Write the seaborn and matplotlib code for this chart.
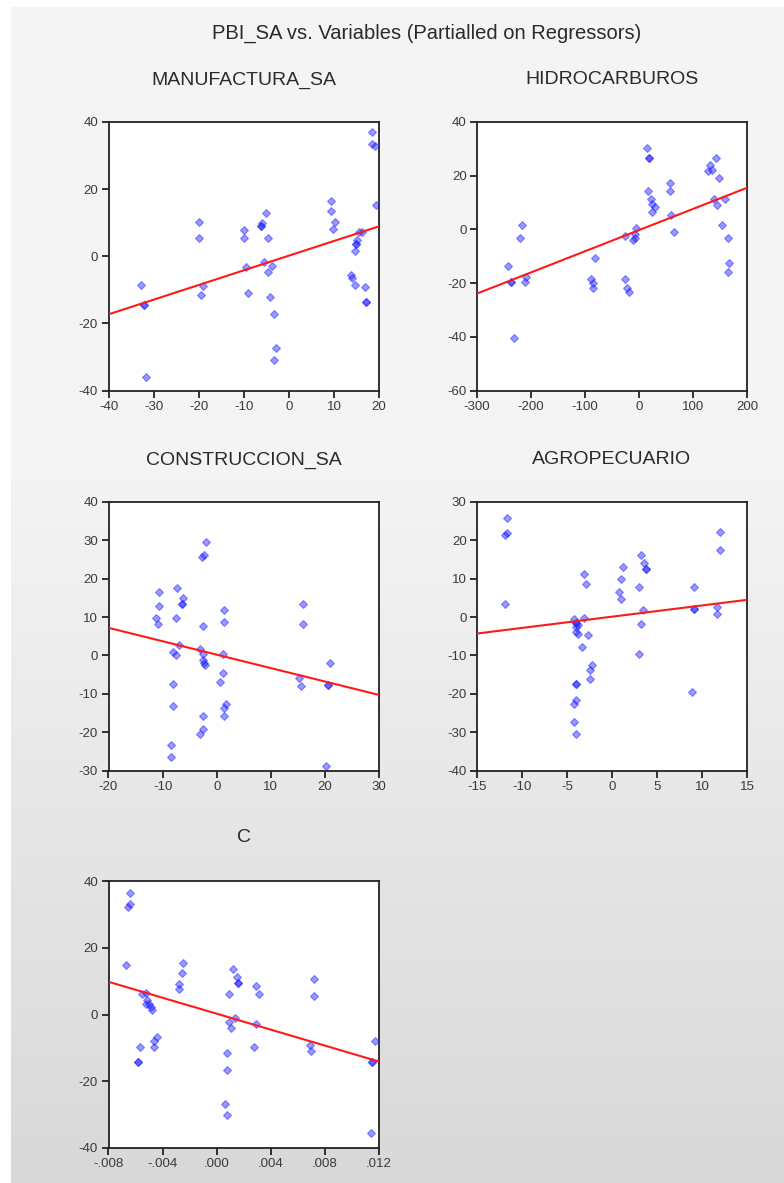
import matplotlib
matplotlib.use("Agg")
import matplotlib.pyplot as plt
import numpy as np
import seaborn as sns
from matplotlib.ticker import FuncFormatter

# ---------------- data ----------------
main_title = "PBI_SA vs. Variables (Partialled on Regressors)"
panel_titles = ["MANUFACTURA_SA", "HIDROCARBUROS", "CONSTRUCCION_SA", "AGROPECUARIO", "C"]

manuf_x = [-32.7, -32.1, -32.1, -31.7, -19.9, -19.9, -19.1, -19.5, -10.0, -10.0, -9.5, -9.0,
           -6.1, -6.1, -5.9, -5.1, -4.6, -5.5, -4.6, -3.8, -4.2, -3.3, -2.9, -3.3,
           9.4, 9.4, 10.3, 9.8, 19.3, 18.5, 18.5, 19.1, 15.5, 16.3, 15.2, 14.8, 14.8,
           14.6, 13.7, 14.0, 14.6, 16.8, 17.2, 17.2]
manuf_y = [-8.5, -14.6, -14.6, -36.0, 10.1, 5.4, -9.0, -11.5, 7.7, 5.4, -3.3, -10.9,
           9.0, 9.0, 10.0, 13.0, 5.4, -1.6, -4.6, -2.8, -12.1, -17.3, -27.3, -30.8,
           16.4, 13.4, 10.1, 8.2, 15.3, 36.9, 33.4, 32.8, 7.2, 7.2, 4.7, 3.7, 3.7,
           1.7, -5.6, -6.6, -8.6, -9.2, -13.5, -13.5]

hidro_x = [-241.7, -236.7, -236.7, -231.0, -216.0, -220.0, -209.0, -212.0, -88.0, -85.0, -85.0, -81.0,
           -26.0, -22.0, -18.0, -26.0, -11.0, -7.4, -7.4, -5.5, 14.0, 19.0, 19.0, 17.0,
           21.4, 24.6, 29.0, 24.6, 57.0, 57.0, 60.0, 65.0, 128.0, 132.0, 135.0, 142.0,
           139.0, 149.0, 145.0, 159.0, 153.0, 164.0, 164.0, 167.0]
hidro_y = [-13.5, -19.5, -19.5, -40.6, 1.75, -3.3, -17.9, -19.5, -18.5, -19.8, -21.7, -10.5,
           -18.5, -22.0, -23.3, -2.6, -4.1, -3.3, -1.6, 0.5, 30.5, 26.6, 26.6, 14.2,
           11.3, 9.3, 8.4, 6.3, 17.2, 14.2, 5.5, -1.0, 21.6, 23.8, 22.3, 26.6,
           11.5, 19.3, 9.0, 11.3, 1.75, -3.3, -15.8, -12.7]

constr_x = [-10.6, -10.6, -11.3, -10.9, -7.3, -6.2, -6.4, -6.4, -7.6, -7.0, -8.1, -7.6,
            -8.0, -8.0, -8.4, -8.4, -1.9, -2.3, -2.7, -2.6, -3.0, -2.6, -2.6, -2.4,
            -2.2, -2.6, -2.6, -3.0, 1.3, 1.3, 1.1, 1.1, 0.6, 1.7, 1.3, 1.3,
            15.9, 15.9, 15.2, 15.5, 20.9, 20.6, 20.6, 20.2]
constr_y = [16.5, 12.9, 9.8, 8.2, 17.5, 15.0, 13.3, 13.3, 9.8, 2.7, 1.0, 0.0,
            -7.5, -13.2, -23.4, -26.4, 29.6, 26.1, 25.7, 7.8, 1.8, 0.3, -1.2, -2.1,
            -2.5, -15.7, -19.3, -20.4, 11.8, 8.8, 0.3, -4.5, -7.0, -12.6, -13.6, -15.7,
            13.4, 8.2, -6.0, -8.1, -1.9, -7.8, -7.8, -28.9]

agro_x = [-11.66, -11.66, -11.9, -11.9, -4.24, -4.05, -4.05, -3.75, -4.05, -4.05, -3.75,
          -3.1, -2.9, -3.1, -2.66, -3.3, -2.2, -2.4, -2.4, -4.05, -4.05, -4.05, -4.24,
          -4.24, -4.05, 0.79, 1.0, 1.0, 1.24, 3.2, 3.6, 3.8, 3.8, 3.0, 3.4, 3.2, 3.0,
          9.15, 9.15, 9.15, 8.9, 12.0, 12.0, 11.7, 11.7]
agro_y = [25.9, 21.8, 21.3, 3.3, -0.6, -1.6, -1.6, -2.0, -2.7, -3.8, -4.4,
          11.1, 8.5, -0.3, -4.7, -7.9, -12.4, -13.7, -16.1, -17.4, -17.4, -21.5, -22.7,
          -27.3, -30.4, 6.5, 4.8, 10.0, 13.1, 16.1, 14.1, 12.5, 12.5, 7.9, 1.8, -1.8, -9.5,
          7.9, 2.1, 2.1, -19.6, 22.3, 17.6, 2.5, 0.8]

c_x = [-0.00643, -0.00638, -0.00655, -0.0067, -0.00568, -0.0058, -0.0058, -0.00553, -0.00523,
       -0.00513, -0.00525, -0.0050, -0.00488, -0.00475, -0.00443, -0.0046, -0.00463,
       -0.00246, -0.0026, -0.00276, -0.00276, 0.00119, 0.00151, 0.00156, 0.00156, 0.0009,
       0.00137, 0.0009, 0.00106, 0.00074, 0.00074, 0.00059, 0.00074, 0.00294, 0.0031,
       0.00294, 0.00276, 0.00718, 0.00718, 0.00688, 0.0070, 0.01168, 0.0115, 0.0115, 0.0114]
c_y = [36.4, 33.0, 32.3, 14.7, -9.6, -14.1, -14.1, 6.0, 6.5,
       4.3, 3.2, 3.0, 2.1, 1.3, -6.6, -7.9, -9.6,
       15.3, 12.4, 9.0, 7.7, 13.6, 11.3, 9.5, 9.5, 6.0,
       -1.0, -2.1, -4.0, -11.4, -16.7, -26.7, -30.1, 8.4, 6.0,
       -2.9, -9.6, 10.6, 5.4, -9.0, -11.0, -8.0, -14.1, -14.1, -35.4]

# fitted partial-regression lines (slope, intercept)
fit_slopes = [0.437, 0.0788, -0.35, 0.293, -1195.0]
fit_intercepts = [0.17, -0.26, 0.2, 0.1, 0.24]

# axis ranges and ticks
x_limits = [(-40, 20), (-300, 200), (-20, 30), (-15, 15), (-0.008, 0.012)]
y_limits = [(-40, 40), (-60, 40), (-30, 40), (-40, 30), (-40, 40)]
x_ticks = [[-40, -30, -20, -10, 0, 10, 20],
           [-300, -200, -100, 0, 100, 200],
           [-20, -10, 0, 10, 20, 30],
           [-15, -10, -5, 0, 5, 10, 15],
           [-0.008, -0.004, 0.0, 0.004, 0.008, 0.012]]
y_ticks = [[-40, -20, 0, 20, 40],
           [-60, -40, -20, 0, 20, 40],
           [-30, -20, -10, 0, 10, 20, 30, 40],
           [-40, -30, -20, -10, 0, 10, 20, 30],
           [-40, -20, 0, 20, 40]]

xs = [manuf_x, hidro_x, constr_x, agro_x, c_x]
ys = [manuf_y, hidro_y, constr_y, agro_y, c_y]

# ---------------- style ----------------
sns.set_theme(style="white")
plt.rcParams["font.family"] = ["Liberation Sans", "DejaVu Sans"]
plt.rcParams["axes.unicode_minus"] = False

W, H = 784, 1183
fig = plt.figure(figsize=(W / 100, H / 100), dpi=100)

# background: white margin + soft vertical gray gradient
rows = np.arange(H)
shade = np.where(rows < 480, 244.0, 244.0 - 28.0 * (rows - 480) / (H - 480))
bg = np.repeat(shade[:, None], W, axis=1)
bg[:7, :] = 255
bg[:, :11] = 255
bg_rgb = np.stack([bg, bg, bg], axis=-1) / 255.0
bax = fig.add_axes([0, 0, 1, 1], zorder=-10)
bax.imshow(bg_rgb, aspect="auto", extent=[0, 1, 0, 1], interpolation="nearest")
bax.set_axis_off()

col_left = [108.5, 477.0]
col_width = [270.5, 270.0]
row_top = [122.0, 502.0, 881.0]
row_bottom = [390.5, 770.5, 1148.0]
title_y = [80.0, 460.0, 838.0]


def c_fmt(v, pos):
    s = "%.3f" % v
    if s.startswith("-0"):
        return "-" + s[2:]
    if s.startswith("0"):
        return s[1:]
    return s


for i in range(5):
    r, c = divmod(i, 2)
    l = col_left[c] / W
    w = col_width[c] / W
    b = (H - row_bottom[r]) / H
    h = (row_bottom[r] - row_top[r]) / H
    ax = fig.add_axes([l, b, w, h])
    ax.set_facecolor("white")

    sns.scatterplot(x=xs[i], y=ys[i], ax=ax, marker="D", s=16,
                    color="#2020ff", edgecolor="#2020ff", linewidth=0.9,
                    alpha=0.45, zorder=3, legend=False)
    xl = np.array(x_limits[i], dtype=float)
    yl = fit_intercepts[i] + fit_slopes[i] * xl
    sns.lineplot(x=xl, y=yl, ax=ax, color="#ff1a1a", linewidth=1.5, zorder=4)

    ax.set_xlim(*x_limits[i])
    ax.set_ylim(*y_limits[i])
    ax.set_xticks(x_ticks[i])
    ax.set_yticks(y_ticks[i])
    if i == 4:
        ax.xaxis.set_major_formatter(FuncFormatter(c_fmt))
    ax.set_xlabel("")
    ax.set_ylabel("")
    ax.tick_params(axis="both", which="major", direction="out", length=5,
                   width=1.3, color="#222222", labelsize=9.5, labelcolor="#3a3a3a",
                   pad=2.5, left=True, bottom=True)
    for sp in ax.spines.values():
        sp.set_visible(True)
        sp.set_color("#222222")
        sp.set_linewidth(1.3)

    cx = (col_left[c] + col_width[c] / 2) / W
    fig.text(cx, 1 - title_y[r] / H, panel_titles[i], ha="center", va="center",
             fontsize=14, color="#2a2a2a")

fig.text(427 / W, 1 - 33 / H, main_title, ha="center", va="center",
         fontsize=14.5, color="#2a2a2a")

fig.savefig("out.png", dpi=100)
